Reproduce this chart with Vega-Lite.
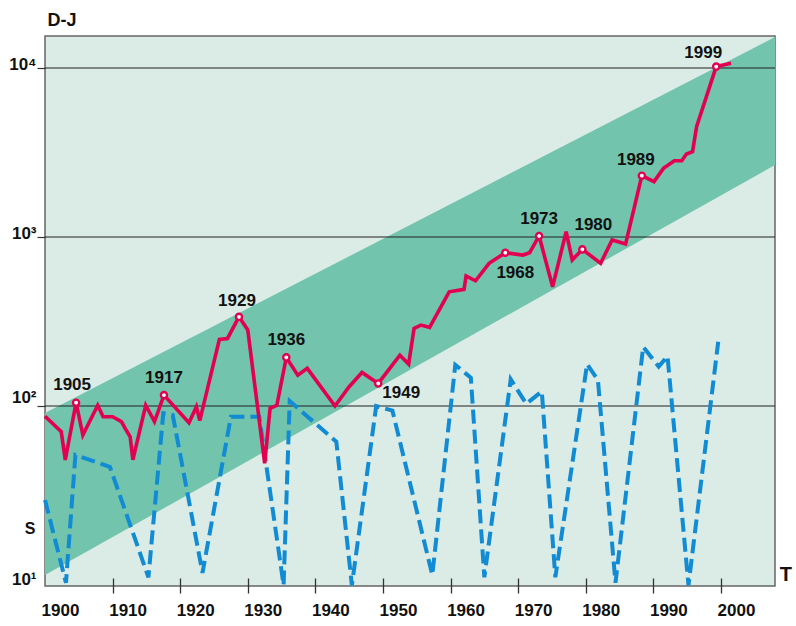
{
  "$schema": "https://vega.github.io/schema/vega-lite/v6.json",
  "width": 730,
  "height": 550,
  "autosize": "none",
  "padding": {"left": 45, "top": 36, "right": 21, "bottom": 40},
  "background": "white",
  "config": {
    "view": {"fill": "#dbebe5", "stroke": "#666666", "strokeWidth": 1.5},
    "font": "Liberation Sans"
  },
  "datasets": {
    "band": [
      {"year": 1900, "lo": 10, "hi": 91},
      {"year": 2008, "lo": 2667, "hi": 15240}
    ],
    "grid": [{"v": 100}, {"v": 1000}, {"v": 10000}],
    "dj": [
      {"year": 1900.0, "value": 87},
      {"year": 1902.4, "value": 70.5},
      {"year": 1903.0, "value": 48},
      {"year": 1904.6, "value": 104.6, "label": "1905"},
      {"year": 1905.6, "value": 67.3},
      {"year": 1907.8, "value": 101},
      {"year": 1908.6, "value": 86.4},
      {"year": 1910.0, "value": 86.4},
      {"year": 1911.3, "value": 80.8},
      {"year": 1912.0, "value": 72.1},
      {"year": 1912.6, "value": 65.8},
      {"year": 1913.0, "value": 48},
      {"year": 1914.9, "value": 101},
      {"year": 1916.2, "value": 80.8},
      {"year": 1917.6, "value": 116, "label": "1917"},
      {"year": 1921.3, "value": 79.6},
      {"year": 1922.4, "value": 99},
      {"year": 1922.9, "value": 82},
      {"year": 1925.8, "value": 248},
      {"year": 1927.0, "value": 251},
      {"year": 1928.7, "value": 337, "label": "1929"},
      {"year": 1930.0, "value": 282},
      {"year": 1932.5, "value": 45.8},
      {"year": 1933.3, "value": 96.9},
      {"year": 1934.3, "value": 101},
      {"year": 1935.7, "value": 194, "label": "1936"},
      {"year": 1937.4, "value": 152},
      {"year": 1938.8, "value": 167},
      {"year": 1942.9, "value": 100},
      {"year": 1945.0, "value": 130},
      {"year": 1946.9, "value": 158},
      {"year": 1949.3, "value": 136, "label": "1949"},
      {"year": 1952.5, "value": 200},
      {"year": 1953.8, "value": 177},
      {"year": 1954.6, "value": 288},
      {"year": 1955.6, "value": 301},
      {"year": 1956.9, "value": 292},
      {"year": 1959.8, "value": 474},
      {"year": 1962.0, "value": 490},
      {"year": 1962.3, "value": 588},
      {"year": 1963.7, "value": 551},
      {"year": 1965.7, "value": 699},
      {"year": 1968.1, "value": 807, "label": "1968"},
      {"year": 1970.7, "value": 782},
      {"year": 1971.7, "value": 807},
      {"year": 1973.1, "value": 1014, "label": "1973"},
      {"year": 1975.1, "value": 508},
      {"year": 1977.1, "value": 1074},
      {"year": 1978.0, "value": 731},
      {"year": 1979.5, "value": 845, "label": "1980"},
      {"year": 1982.2, "value": 699},
      {"year": 1983.9, "value": 960},
      {"year": 1985.9, "value": 910},
      {"year": 1988.3, "value": 2306, "label": "1989"},
      {"year": 1990.1, "value": 2125},
      {"year": 1991.5, "value": 2547},
      {"year": 1993.1, "value": 2825},
      {"year": 1994.2, "value": 2825},
      {"year": 1994.9, "value": 3097},
      {"year": 1995.8, "value": 3197},
      {"year": 1996.4, "value": 4500},
      {"year": 1999.3, "value": 10190, "label": "1999"},
      {"year": 2001.5, "value": 10660}
    ],
    "ss": [
      {"year": 1900.0, "value": 27.8},
      {"year": 1903.1, "value": 9.0},
      {"year": 1904.5, "value": 51.3},
      {"year": 1909.6, "value": 43.7},
      {"year": 1915.3, "value": 9.7},
      {"year": 1917.5, "value": 90.6},
      {"year": 1918.9, "value": 88.4},
      {"year": 1923.3, "value": 10.3},
      {"year": 1927.5, "value": 86.4},
      {"year": 1931.7, "value": 86.4},
      {"year": 1935.3, "value": 8.7},
      {"year": 1936.2, "value": 107},
      {"year": 1943.1, "value": 61.5},
      {"year": 1945.4, "value": 8.7},
      {"year": 1949.0, "value": 100},
      {"year": 1951.4, "value": 93.8},
      {"year": 1957.3, "value": 10},
      {"year": 1960.7, "value": 175},
      {"year": 1963.0, "value": 147},
      {"year": 1965.0, "value": 9.7},
      {"year": 1968.9, "value": 144},
      {"year": 1971.2, "value": 103},
      {"year": 1973.5, "value": 122},
      {"year": 1975.5, "value": 9.7},
      {"year": 1980.2, "value": 177},
      {"year": 1981.8, "value": 142.6},
      {"year": 1984.4, "value": 9.0},
      {"year": 1988.5, "value": 224},
      {"year": 1990.8, "value": 171},
      {"year": 1992.1, "value": 197},
      {"year": 1995.2, "value": 8.7},
      {"year": 1999.6, "value": 240}
    ]
  },
  "layer": [
    {
      "data": {"name": "band"},
      "mark": {"type": "area", "color": "#72c4ad", "opacity": 1},
      "encoding": {
        "x": {
          "field": "year", "type": "quantitative",
          "scale": {"domain": [1900, 2008], "nice": false, "zero": false},
          "axis": {
            "values": [1900, 1910, 1920, 1930, 1940, 1950, 1960, 1970, 1980, 1990, 2000],
            "format": "d", "title": null, "grid": false, "domain": false,
            "offset": -8, "tickSize": 15, "tickColor": "#333333", "tickWidth": 1.3,
            "tickOpacity": {"condition": {"test": "datum.value == 1900", "value": 0}, "value": 1},
            "labelOffset": 15, "labelPadding": 9, "labelFlush": false, "labelOverlap": false,
            "labelFont": "Liberation Sans", "labelFontSize": 17, "labelFontWeight": "bold", "labelColor": "#111111"
          }
        },
        "y": {
          "field": "lo", "type": "quantitative",
          "scale": {"type": "log", "domain": [8.61, 15460], "nice": false, "zero": false},
          "axis": {
            "values": [10, 100, 1000, 10000],
            "labelExpr": "datum.value == 10 ? '10¹' : datum.value == 100 ? '10²' : datum.value == 1000 ? '10³' : '10⁴'",
            "title": null, "grid": false, "domain": false,
            "tickSize": 8, "tickColor": "#333333", "tickWidth": 1.2,
            "tickOpacity": {"condition": {"test": "datum.value == 10", "value": 0}, "value": 1},
            "labelPadding": 1, "labelBaseline": "middle",
            "labelOffset": {"condition": [{"test": "datum.value == 100", "value": -9}, {"test": "datum.value == 10", "value": 4}], "value": -3},
            "labelFont": "Liberation Sans", "labelFontSize": 17, "labelFontWeight": "bold", "labelColor": "#111111"
          }
        },
        "y2": {"field": "hi"}
      }
    },
    {
      "data": {"name": "grid"},
      "mark": {"type": "rule", "color": "#222222", "strokeWidth": 1.2},
      "encoding": {"y": {"field": "v", "type": "quantitative"}}
    },
    {
      "data": {"name": "ss"},
      "mark": {"type": "line", "color": "#118bd3", "strokeWidth": 4, "strokeDash": [14, 6]},
      "encoding": {
        "x": {"field": "year", "type": "quantitative"},
        "y": {"field": "value", "type": "quantitative"}
      }
    },
    {
      "data": {"name": "dj"},
      "mark": {"type": "line", "color": "#e3004f", "strokeWidth": 3.6, "strokeJoin": "miter"},
      "encoding": {
        "x": {"field": "year", "type": "quantitative"},
        "y": {"field": "value", "type": "quantitative"}
      }
    },
    {
      "data": {"name": "dj"},
      "transform": [{"filter": "isValid(datum.label)"}],
      "mark": {"type": "point", "shape": "circle", "size": 38, "filled": false, "fill": "#ffffff", "fillOpacity": 1, "stroke": "#e3004f", "strokeWidth": 2.4},
      "encoding": {
        "x": {"field": "year", "type": "quantitative"},
        "y": {"field": "value", "type": "quantitative"}
      }
    },
    {
      "data": {"name": "dj"},
      "transform": [{"filter": {"field": "label", "oneOf": ["1905"]}}],
      "mark": {"type": "text", "font": "Liberation Sans", "fontWeight": "bold", "fontSize": 17, "color": "#111111", "baseline": "middle", "align": "center", "dx": -4, "dy": -18},
      "encoding": {"x": {"field": "year", "type": "quantitative"}, "y": {"field": "value", "type": "quantitative"}, "text": {"field": "label"}}
    },
    {
      "data": {"name": "dj"},
      "transform": [{"filter": {"field": "label", "oneOf": ["1917", "1936", "1973"]}}],
      "mark": {"type": "text", "font": "Liberation Sans", "fontWeight": "bold", "fontSize": 17, "color": "#111111", "baseline": "middle", "align": "center", "dx": 0, "dy": -17},
      "encoding": {"x": {"field": "year", "type": "quantitative"}, "y": {"field": "value", "type": "quantitative"}, "text": {"field": "label"}}
    },
    {
      "data": {"name": "dj"},
      "transform": [{"filter": {"field": "label", "oneOf": ["1929"]}}],
      "mark": {"type": "text", "font": "Liberation Sans", "fontWeight": "bold", "fontSize": 17, "color": "#111111", "baseline": "middle", "align": "center", "dx": -2, "dy": -15.5},
      "encoding": {"x": {"field": "year", "type": "quantitative"}, "y": {"field": "value", "type": "quantitative"}, "text": {"field": "label"}}
    },
    {
      "data": {"name": "dj"},
      "transform": [{"filter": {"field": "label", "oneOf": ["1949"]}}],
      "mark": {"type": "text", "font": "Liberation Sans", "fontWeight": "bold", "fontSize": 17, "color": "#111111", "baseline": "middle", "align": "center", "dx": 23, "dy": 10},
      "encoding": {"x": {"field": "year", "type": "quantitative"}, "y": {"field": "value", "type": "quantitative"}, "text": {"field": "label"}}
    },
    {
      "data": {"name": "dj"},
      "transform": [{"filter": {"field": "label", "oneOf": ["1968"]}}],
      "mark": {"type": "text", "font": "Liberation Sans", "fontWeight": "bold", "fontSize": 17, "color": "#111111", "baseline": "middle", "align": "center", "dx": 10, "dy": 20.5},
      "encoding": {"x": {"field": "year", "type": "quantitative"}, "y": {"field": "value", "type": "quantitative"}, "text": {"field": "label"}}
    },
    {
      "data": {"name": "dj"},
      "transform": [{"filter": {"field": "label", "oneOf": ["1980"]}}],
      "mark": {"type": "text", "font": "Liberation Sans", "fontWeight": "bold", "fontSize": 17, "color": "#111111", "baseline": "middle", "align": "center", "dx": 11, "dy": -24.5},
      "encoding": {"x": {"field": "year", "type": "quantitative"}, "y": {"field": "value", "type": "quantitative"}, "text": {"field": "label"}}
    },
    {
      "data": {"name": "dj"},
      "transform": [{"filter": {"field": "label", "oneOf": ["1989"]}}],
      "mark": {"type": "text", "font": "Liberation Sans", "fontWeight": "bold", "fontSize": 17, "color": "#111111", "baseline": "middle", "align": "center", "dx": -6, "dy": -16},
      "encoding": {"x": {"field": "year", "type": "quantitative"}, "y": {"field": "value", "type": "quantitative"}, "text": {"field": "label"}}
    },
    {
      "data": {"name": "dj"},
      "transform": [{"filter": {"field": "label", "oneOf": ["1999"]}}],
      "mark": {"type": "text", "font": "Liberation Sans", "fontWeight": "bold", "fontSize": 17, "color": "#111111", "baseline": "middle", "align": "center", "dx": -13, "dy": -14},
      "encoding": {"x": {"field": "year", "type": "quantitative"}, "y": {"field": "value", "type": "quantitative"}, "text": {"field": "label"}}
    },
    {
      "data": {"values": [{}]},
      "mark": {"type": "text", "font": "Liberation Sans", "fontWeight": "bold", "fontSize": 18, "color": "#111111", "baseline": "middle", "align": "center", "text": "D-J"},
      "encoding": {"x": {"datum": 1902.5, "type": "quantitative"}, "y": {"datum": 18970, "type": "quantitative"}}
    },
    {
      "data": {"values": [{}]},
      "mark": {"type": "text", "font": "Liberation Sans", "fontWeight": "bold", "fontSize": 16, "color": "#111111", "baseline": "middle", "align": "center", "text": "S"},
      "encoding": {"x": {"datum": 1897.8, "type": "quantitative"}, "y": {"datum": 18.7, "type": "quantitative"}}
    },
    {
      "data": {"values": [{}]},
      "mark": {"type": "text", "font": "Liberation Sans", "fontWeight": "bold", "fontSize": 20, "color": "#111111", "baseline": "middle", "align": "center", "text": "T"},
      "encoding": {"x": {"datum": 2009.6, "type": "quantitative"}, "y": {"datum": 10.0, "type": "quantitative"}}
    }
  ]
}
